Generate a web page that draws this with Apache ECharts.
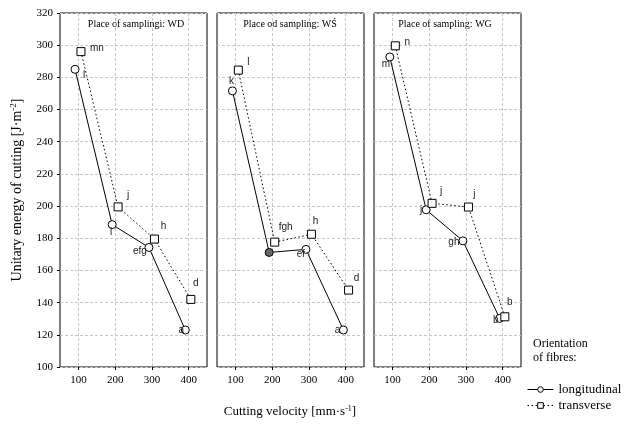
<!DOCTYPE html>
<html><head><meta charset="utf-8">
<script src="https://cdn.jsdelivr.net/npm/echarts@6/dist/echarts.min.js"></script>
<style>html,body{margin:0;padding:0;background:#fff}#c{width:628px;height:430px}</style>
</head><body><div id="c"></div>
<script>
// ---- data ----
const panelTitles = ['Place of samplingi: WD', 'Place od sampling: WŚ', 'Place of sampling: WG'];
const velocityTicks = [100, 200, 300, 400];
// x positions (slightly shifted around nominal velocities, as in the picture)
const longX = [[91, 192, 292, 391], [92, 192, 292, 394], [93, 192, 292, 392]];
const transX = [[107, 208, 307, 406], [108, 207, 307, 408], [108, 208, 307, 406]];
const longY = [[285, 188.5, 174.3, 123], [271.6, 171.2, 173.1, 123], [292.7, 197.7, 178.4, 130.2]];
const transY = [[296, 199.5, 179.5, 142], [284.5, 177.6, 182.5, 147.8], [299.6, 201.7, 199.4, 131.2]];
const longLabels = [['l', 'i', 'efg', 'a'], ['k', '', 'ef', 'a'], ['m', 'j', 'gh', 'b']];
const transLabels = [['mn', 'j', 'h', 'd'], ['l', 'fgh', 'h', 'd'], ['n', 'j', 'j', 'b']];
// ---- label placement / styling (not data) ----
const longOff = [[[9,6],[-1,8],[-9,4],[-4,0]], [[-1,-10],[0,0],[-5,5],[-6,0]], [[-4,7],[-5,0],[-9,1],[-4,2]]];
const transOff = [[[16,-3],[10,-12],[9,-13],[5,-16]], [[10,-8],[11,-15],[4,-13],[8,-12]], [[12,-4],[9,-12],[6,-13],[5,-15]]];
const longFill = [['#fff','#fff','#fff','#fff'], ['#fff','#666','#fff','#fff'], ['#fff','#fff','#fff','#fff']];

const serif = 'Liberation Serif';
const sans = 'Liberation Sans';
const panelLeft = [60, 217, 374];
const titleCenter = [136, 290, 445];
const grids = [], xAxes = [], yAxes = [], series = [];
for (let p = 0; p < 3; p++) {
  grids.push({left: panelLeft[p], width: 147, top: 13, height: 354, show: true, borderColor: '#000', borderWidth: 1, backgroundColor: 'transparent'});
  xAxes.push({
    gridIndex: p, type: 'value', min: 50, max: 450,
    axisLine: {show: false},
    axisTick: {show: true, customValues: velocityTicks, length: 3, inside: false, lineStyle: {color: '#000'}},
    axisLabel: {customValues: velocityTicks, color: '#000', fontFamily: serif, fontSize: 11, margin: 8},
    splitLine: {show: true, lineStyle: {color: '#c8c8c8', type: [3, 2], width: 1}}
  });
  yAxes.push({
    gridIndex: p, type: 'value', min: 100, max: 320, interval: 20,
    axisLine: {show: false},
    axisTick: {show: p === 0, length: 3, lineStyle: {color: '#000'}},
    axisLabel: {show: p === 0, color: '#000', fontFamily: serif, fontSize: 11, margin: 7},
    splitLine: {show: true, lineStyle: {color: '#c8c8c8', type: [3, 2], width: 1}},
    name: p === 0 ? '{a|Unitary energy of cutting [J·m}{s|-2}{a|]}' : '',
    nameLocation: 'middle', nameGap: 35, nameRotate: 90,
    nameTextStyle: {rich: {a: {fontFamily: serif, fontSize: 14, color: '#000'}, s: {fontFamily: serif, fontSize: 9, color: '#000', verticalAlign: 'top', padding: [0, 0, 7, 0]}}}
  });
  series.push({
    name: 'longitudinal', type: 'line', xAxisIndex: p, yAxisIndex: p,
    symbol: 'circle', symbolSize: 8,
    lineStyle: {color: '#000', width: 1, type: 'solid'},
    itemStyle: {color: '#fff', borderColor: '#000', borderWidth: 1},
    z: 3,
    data: longX[p].map((x, i) => ({
      value: [x, longY[p][i]],
      itemStyle: {color: longFill[p][i]},
      label: {show: longLabels[p][i] !== '', formatter: longLabels[p][i], position: 'inside', offset: longOff[p][i], color: '#222', fontFamily: sans, fontSize: 10}
    })),
    animation: false
  });
  series.push({
    name: 'transverse', type: 'line', xAxisIndex: p, yAxisIndex: p,
    symbol: 'rect', symbolSize: 8,
    lineStyle: {color: '#000', width: 1, type: [1.5, 2.5]},
    itemStyle: {color: '#fff', borderColor: '#000', borderWidth: 1},
    z: 3,
    data: transX[p].map((x, i) => ({
      value: [x, transY[p][i]],
      label: {show: true, formatter: transLabels[p][i], position: 'inside', offset: transOff[p][i], color: '#222', fontFamily: sans, fontSize: 10}
    })),
    animation: false
  });
}

const chart = echarts.init(document.getElementById('c'), null, {renderer: 'canvas'});
chart.setOption({
  backgroundColor: '#fff',
  animation: false,
  grid: grids, xAxis: xAxes, yAxis: yAxes, series: series,
  legend: {
    data: ['longitudinal', 'transverse'], orient: 'vertical', left: 522, top: 378,
    itemWidth: 26, itemHeight: 7, itemGap: 3,
    itemStyle: {color: '#fff', borderColor: '#000', borderWidth: 1},
    lineStyle: {width: 1},
    textStyle: {fontFamily: serif, fontSize: 13, color: '#000'},
    selectedMode: false
  },
  graphic: [
    ...panelTitles.map((t, p) => ({
      type: 'text', x: titleCenter[p], y: 24.5,
      style: {text: t, fontFamily: serif, fontSize: 10, fill: '#000', align: 'center', verticalAlign: 'middle'}
    })),
    {type: 'text', x: 533, y: 337, style: {text: 'Orientation\nof fibres:', fontFamily: serif, fontSize: 12, fill: '#000', lineHeight: 14}},
    {type: 'text', x: 290, y: 412, style: {
      text: '{a|Cutting velocity [mm·s}{s|-1}{a|]}', align: 'center', verticalAlign: 'middle',
      rich: {a: {fontFamily: serif, fontSize: 13, fill: '#000'}, s: {fontFamily: serif, fontSize: 8, fill: '#000', verticalAlign: 'top', padding: [0, 0, 6, 0]}}
    }}
  ]
});
</script></body></html>
